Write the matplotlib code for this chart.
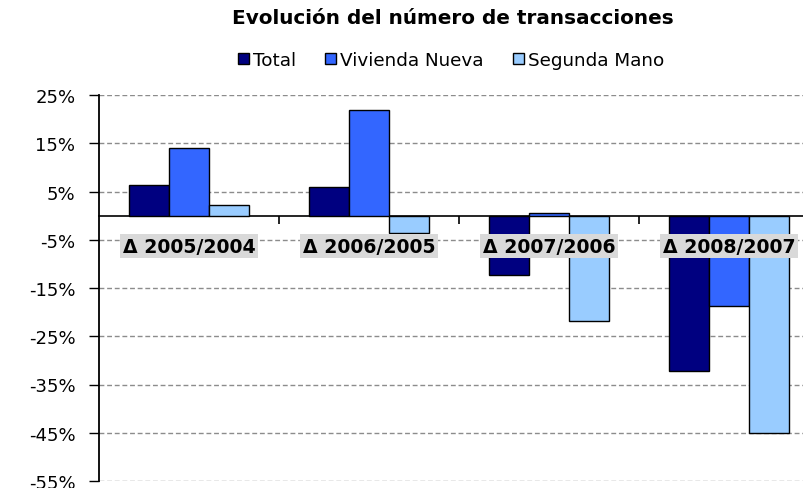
import numpy as np
import matplotlib
matplotlib.use("Agg")
import matplotlib.pyplot as plt
from matplotlib.ticker import FuncFormatter

# data (percent change)
categories = ["Δ 2005/2004", "Δ 2006/2005", "Δ 2007/2006", "Δ 2008/2007"]
series_names = ["Total", "Vivienda Nueva", "Segunda Mano"]
total = [6.4, 6.0, -12.4, -32.3]
vivienda_nueva = [14.0, 21.9, 0.5, -18.8]
segunda_mano = [2.3, -3.7, -21.9, -45.0]
y_ticks = [25, 15, 5, -5, -15, -25, -35, -45, -55]

colors = ["#000080", "#3366FF", "#99CCFF"]

fig = plt.figure(figsize=(8.04, 4.89), dpi=100)
# plot area runs past the right edge, like the cropped original
ax = fig.add_axes([99 / 804, 7 / 489, 720 / 804, 386 / 489])

x = np.arange(len(categories))
w = 0.2222
for k, (vals, name) in enumerate(zip([total, vivienda_nueva, segunda_mano], series_names)):
    ax.bar(x + (k - 1) * w, vals, width=w, color=colors[k], edgecolor="black",
           linewidth=1.0, label=name, zorder=3)

ax.set_xlim(-0.5, 3.5)
ax.set_ylim(-55, 25)
ax.set_yticks(y_ticks)
ax.yaxis.set_major_formatter(FuncFormatter(lambda v, p: f"{v:.0f}%"))
ax.tick_params(axis="y", direction="out", length=7, width=1, labelsize=13, pad=10)
ax.yaxis.grid(True, linestyle=(0, (3.5, 2)), color="#8C8C8C", linewidth=1.0)
ax.set_axisbelow(True)

# zero line with small ticks between groups
ax.spines["bottom"].set_position(("data", 0))
ax.spines["bottom"].set_linewidth(1.2)
ax.spines["left"].set_linewidth(1.3)
ax.spines["top"].set_visible(False)
ax.spines["right"].set_visible(False)
ax.set_xticks([0.5, 1.5, 2.5])
ax.set_xticklabels([])
ax.tick_params(axis="x", direction="out", length=6, width=1.2)

for i, lab in enumerate(categories):
    ax.text(i, -6.3, lab, ha="center", va="center", fontsize=13.6, fontweight="bold",
            zorder=5, bbox=dict(boxstyle="square,pad=0.12", facecolor="#D9D9D9",
                                edgecolor="none"))

fig.text(453 / 804, 1 - 18 / 489, "Evolución del número de transacciones",
         ha="center", va="center", fontsize=14.4, fontweight="bold")

fig.legend(loc="center", bbox_to_anchor=(451 / 804, 1 - 61 / 489), ncol=3,
           frameon=False, fontsize=13.2, handlelength=0.6, handleheight=0.6,
           handletextpad=0.2, columnspacing=1.6)

plt.savefig("out.png", dpi=100)
